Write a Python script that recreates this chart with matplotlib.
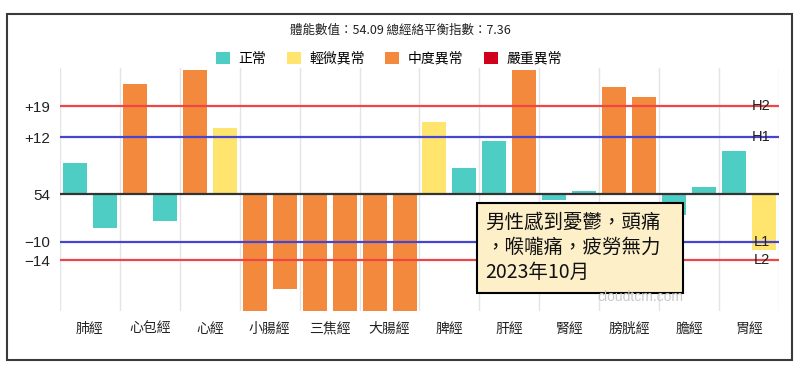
import numpy as np
import matplotlib.pyplot as plt
from matplotlib.patches import Patch, Rectangle

plt.rcParams["font.family"] = ["Noto Sans CJK TC", "DejaVu Sans"]

# 1. Data
# ===========================

meridians = ["肺經", "心包經", "心經", "小腸經", "三焦經", "大腸經",
             "脾經", "肝經", "腎經", "膀胱經", "膽經", "胃經"]
# deviation from the baseline (54), left and right bar of each meridian
left_values = [6.5, 23.3, 26.3, -24.7, -24.7, -24.7, 15.2, 11.2, -1.2, 22.7, -4.4, 9.2]
right_values = [-7.1, -5.6, 14.0, -20.1, -24.7, -24.7, 5.5, 26.3, 0.6, 20.6, 1.5, -11.8]

baseline_label = "54"
h1_value, h2_value = 12, 18.6
l1_value, l2_value = -10, -14
ytick_values = [h2_value, h1_value, 0, l1_value, l2_value]
ytick_labels = ["+19", "+12", baseline_label, "−10", "−14"]

levels = ["正常", "輕微異常", "中度異常", "嚴重異常"]
level_colors = ["#4ECDC4", "#FFE46D", "#F3893D", "#D0021B"]

title_text = "體能數值：54.09 總經絡平衡指數：7.36"
note_lines = ["男性感到憂鬱，頭痛", "，喉嚨痛，疲勞無力", "2023年10月"]
watermark = "cloudtcm.com"


def level_color(v):
    # colour by how far the value is past the H/L thresholds
    if v > h2_value or v < l2_value:
        return level_colors[2]
    if v > h1_value or v < l1_value:
        return level_colors[1]
    return level_colors[0]


# 2. Plot
# =======

W, H = 800, 371
fig = plt.figure(figsize=(W / 100, H / 100), dpi=100)
ax = fig.add_axes([60 / W, 1 - 311 / H, 719 / W, 243 / H])

x = np.arange(len(meridians))
ax.bar(x - 0.25, left_values, width=0.4,
       color=[level_color(v) for v in left_values], zorder=2)
ax.bar(x + 0.25, right_values, width=0.4,
       color=[level_color(v) for v in right_values], zorder=2)

# category separators
for b in np.arange(-0.5, len(meridians)):
    ax.axvline(b, color="#E4E4E4", lw=1, zorder=0)

ax.axhline(h2_value, color="#F04545", lw=1.6, zorder=3)
ax.axhline(h1_value, color="#4545D0", lw=1.6, zorder=3)
ax.axhline(l1_value, color="#4545D0", lw=1.6, zorder=3)
ax.axhline(l2_value, color="#F04545", lw=1.6, zorder=3)
ax.axhline(0, color="#333333", lw=1.6, zorder=4)

latin = ["Liberation Sans", "DejaVu Sans"]
for val, name in [(h2_value, "H2"), (h1_value, "H1"), (l1_value, "L1"), (l2_value, "L2")]:
    ax.text(0.9875, val, name, transform=ax.get_yaxis_transform(), family=latin,
            ha="right", va="center", fontsize=10.5, color="#222222", zorder=5)

ax.set_xlim(-0.5, len(meridians) - 0.5)
ax.set_ylim(-24.7, 26.7)
ax.set_xticks(x)
ax.set_xticklabels(meridians, fontsize=10, color="#222222")
ax.set_yticks(ytick_values)
ax.set_yticklabels(ytick_labels, fontsize=11, color="#222222", family=latin)
ax.tick_params(axis="y", length=0, pad=7)
ax.tick_params(axis="x", length=0, pad=8)
for s in ax.spines.values():
    s.set_visible(False)

# title and legend
fig.text(400 / W, 1 - 30 / H, title_text, ha="center", va="center",
         fontsize=9, color="#222222")
handles = [Patch(facecolor=c, edgecolor="none") for c in level_colors]
fig.legend(handles, levels, loc="center", bbox_to_anchor=(0.486, 1 - 59 / H),
           ncol=4, frameon=False, fontsize=10, handlelength=1.0, handleheight=1.0,
           handletextpad=0.6, columnspacing=1.5)

# note box
fig.add_artist(Rectangle((477 / W, 1 - 293 / H), 206 / W, 90 / H,
                         transform=fig.transFigure, facecolor="#FDEFC8",
                         edgecolor="black", lw=1.5, zorder=5))
for i, line in enumerate(note_lines):
    fig.text(485 / W, 1 - (222 + 25 * i) / H, line, ha="left", va="center",
             fontsize=14, color="#111111", zorder=6)

fig.text(640 / W, 1 - 297 / H, watermark, ha="center", va="center", family=latin,
         fontsize=10, color="#C8C8C8", zorder=6)

# outer frame
fig.add_artist(Rectangle((7 / W, 1 - 360 / H), 785 / W, 346 / H,
                         transform=fig.transFigure, fill=False,
                         edgecolor="#3A3A3A", lw=1.5, zorder=6))

fig.savefig("out.png", dpi=100)
